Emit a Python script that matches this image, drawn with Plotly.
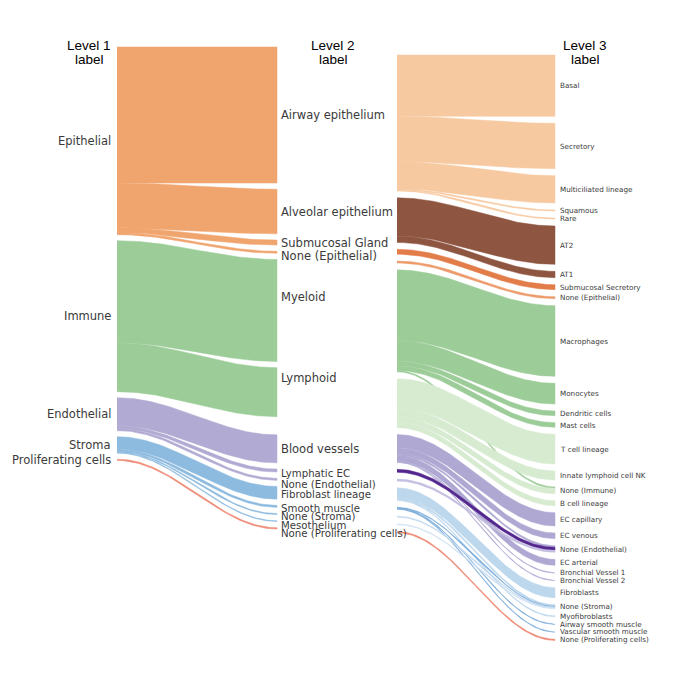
import numpy as np
import plotly.graph_objects as go

# categories
level1 = ["Epithelial", "Immune", "Endothelial", "Stroma", "Proliferating cells"]
level2 = ["Airway epithelium", "Alveolar epithelium", "Submucosal Gland", "None (Epithelial)",
          "Myeloid", "Lymphoid", "Blood vessels", "Lymphatic EC", "None (Endothelial)",
          "Fibroblast lineage", "Smooth muscle", "None (Stroma)", "Mesothelium",
          "None (Proliferating cells)"]
level3 = ["Basal", "Secretory", "Multiciliated lineage", "Squamous", "Rare", "AT2", "AT1",
          "Submucosal Secretory", "None (Epithelial)", "Macrophages", "Monocytes",
          "Dendritic cells", "Mast cells", "T cell lineage", "Innate lymphoid cell NK",
          "None (Immune)", "B cell lineage", "EC capillary", "EC venous", "None (Endothelial)",
          "EC arterial", "Bronchial Vessel 1", "Bronchial Vessel 2", "Fibroblasts",
          "None (Stroma)", "Myofibroblasts", "Airway smooth muscle", "Vascular smooth muscle",
          "None (Proliferating cells)"]

# level 1 -> level 2 (thousands of cells)
l12_source = ["Epithelial", "Epithelial", "Epithelial", "Epithelial", "Immune", "Immune",
              "Endothelial", "Endothelial", "Endothelial", "Stroma", "Stroma", "Stroma", "Stroma",
              "Proliferating cells"]
l12_target = ["Airway epithelium", "Alveolar epithelium", "Submucosal Gland", "None (Epithelial)",
              "Myeloid", "Lymphoid", "Blood vessels", "Lymphatic EC", "None (Endothelial)",
              "Fibroblast lineage", "Smooth muscle", "None (Stroma)", "Mesothelium",
              "None (Proliferating cells)"]
l12_value = [204, 67, 7.5, 3, 153, 73.5, 42, 4.5, 3, 19, 3, 1.5, 1.2, 2]

# level 2 -> level 3 (thousands of cells)
l23_source = ["Airway epithelium"] * 5 + ["Alveolar epithelium"] * 2 + ["Submucosal Gland", "None (Epithelial)"] \
    + ["Myeloid"] * 5 + ["Lymphoid"] * 4 + ["Blood vessels"] * 6 + ["Lymphatic EC", "None (Endothelial)"] \
    + ["Fibroblast lineage"] * 3 + ["Smooth muscle"] * 3 + ["None (Stroma)", "Mesothelium", "None (Proliferating cells)"]
l23_target = ["Basal", "Secretory", "Multiciliated lineage", "Squamous", "Rare", "AT2", "AT1",
              "Submucosal Secretory", "None (Epithelial)",
              "Macrophages", "Monocytes", "Dendritic cells", "Mast cells", "None (Immune)",
              "T cell lineage", "Innate lymphoid cell NK", "None (Immune)", "B cell lineage",
              "EC capillary", "EC venous", "None (Endothelial)", "EC arterial", "Bronchial Vessel 1",
              "Bronchial Vessel 2", "None (Endothelial)", "None (Endothelial)",
              "Fibroblasts", "None (Stroma)", "Myofibroblasts",
              "None (Stroma)", "Airway smooth muscle", "Vascular smooth muscle",
              "None (Stroma)", "None (Stroma)", "None (Proliferating cells)"]
l23_value = [92, 68, 41, 1.5, 1.5, 57.5, 9.5, 7.5, 3,
             106, 31, 7, 7, 2,
             44.5, 13.5, 8, 7.5,
             20, 8.5, 2.5, 9, 1, 1, 4.5, 3,
             15, 2.5, 1.5,
             1, 1, 1,
             1.5, 1.2, 2]

l1_colors = ["#f0a46e", "#9ccc98", "#b1abd3", "#8dbadf", "#ef8a76"]
l2_colors = ["#f6c9a1", "#8e5540", "#e27d4a", "#ec9a6a", "#9ccc98", "#d7ebd1", "#aea8d3",
             "#54278f", "#c4bfe0", "#bdd7ed", "#78aad8", "#c2d8ee", "#cfe0f2", "#ef8a76"]

K = 1 / 1.5  # px per thousand cells

# label tweaks (px) and smaller labels for the crowded bottom of level 2
l2_nudge = {"None (Epithelial)": 4, "Myeloid": -13, "Lymphoid": -14, "Lymphatic EC": 3,
            "None (Endothelial)": 5, "Fibroblast lineage": 2, "Smooth muscle": 2,
            "None (Stroma)": 2, "Mesothelium": 4, "None (Proliferating cells)": 5}
l2_small = ["Lymphatic EC", "None (Endothelial)", "Fibroblast lineage", "Smooth muscle",
            "None (Stroma)", "Mesothelium", "None (Proliferating cells)"]


def stack(labels, sizes, top, gap, extra=None):
    extra = extra or {}
    pos, y = {}, top
    for lab in labels:
        h = sizes.get(lab, 0) * K
        pos[lab] = (y, y + h)
        y += h + gap + extra.get(lab, 0)
    return pos


def flows(fig, src_labels, tgt_labels, src, tgt, val, x0, x1, top0, top1, gap0, gap1, colors, extra1=None):
    out, inn = {}, {}
    for s, t, v in zip(src, tgt, val):
        out[s] = out.get(s, 0) + v
        inn[t] = inn.get(t, 0) + v
    lpos = stack(src_labels, out, top0, gap0)
    rpos = stack(tgt_labels, inn, top1, gap1, extra1)
    idx = list(range(len(val)))
    ls = sorted(idx, key=lambda i: (src_labels.index(src[i]), tgt_labels.index(tgt[i])))
    rs = sorted(idx, key=lambda i: (tgt_labels.index(tgt[i]), src_labels.index(src[i])))
    lcur = {k: p[0] for k, p in lpos.items()}
    rcur = {k: p[0] for k, p in rpos.items()}
    la, ra = {}, {}
    for i in ls:
        la[i] = lcur[src[i]]
        lcur[src[i]] += val[i] * K
    for i in rs:
        ra[i] = rcur[tgt[i]]
        rcur[tgt[i]] += val[i] * K
    t = np.linspace(0, 1, 80)
    s = (1 - np.cos(np.pi * t)) / 2
    xs = x0 + (x1 - x0) * t
    for i in ls:
        h = val[i] * K
        ytop = la[i] + (ra[i] - la[i]) * s
        ybot = ytop + h
        col = colors[src_labels.index(src[i])]
        fig.add_trace(go.Scatter(
            x=np.concatenate([xs, xs[::-1]]), y=np.concatenate([ytop, ybot[::-1]]),
            fill="toself", fillcolor=col, mode="lines", line=dict(color=col, width=0.5),
            hoverinfo="skip"))
    return lpos, rpos


fig = go.Figure()
l1pos, l2pos = flows(fig, level1, level2, l12_source, l12_target, l12_value,
                     117, 277, 47, 47, 6.0, 6.2, l1_colors, extra1={"Lymphoid": 12})
l2pos_b, l3pos = flows(fig, level2, level3, l23_source, l23_target, l23_value,
                       397, 555, 55, 55, 6.8, 7.0, l2_colors)

label_font = dict(family="DejaVu Sans", size=11.5, color="#3a3a3a")
for lab in level1:
    a, b = l1pos[lab]
    fig.add_annotation(x=113, y=(a + b) / 2, text=lab, showarrow=False, xanchor="right",
                       yanchor="middle", font=label_font)
for lab in level2:
    a, b = l2pos[lab]
    f = dict(label_font, size=10.2) if lab in l2_small else label_font
    fig.add_annotation(x=279, y=(a + b) / 2 + l2_nudge.get(lab, 0), text=lab, showarrow=False,
                       xanchor="left", yanchor="middle", font=f)
for lab in level3:
    a, b = l3pos[lab]
    fig.add_annotation(x=558, y=(a + b) / 2, text=lab, showarrow=False, xanchor="left",
                       yanchor="middle", font=dict(family="DejaVu Sans", size=7.2, color="#3a3a3a"))

title_font = dict(family="Liberation Sans", size=13.5, color="black")
for name, xc in [("Level 1", 89), ("Level 2", 333), ("Level 3", 585)]:
    fig.add_annotation(x=xc, y=45, text=name, showarrow=False, font=title_font)
    fig.add_annotation(x=xc, y=59, text="label", showarrow=False, font=title_font)

# page body has an 8px margin, so the axes are shifted to keep screen-pixel units
fig.update_layout(
    width=669, height=672, margin=dict(l=0, r=0, t=0, b=0),
    paper_bgcolor="white", plot_bgcolor="white", showlegend=False,
    xaxis=dict(range=[8, 677], visible=False, fixedrange=True),
    yaxis=dict(range=[680, 8], visible=False, fixedrange=True),
)
fig.write_html("out.html")
